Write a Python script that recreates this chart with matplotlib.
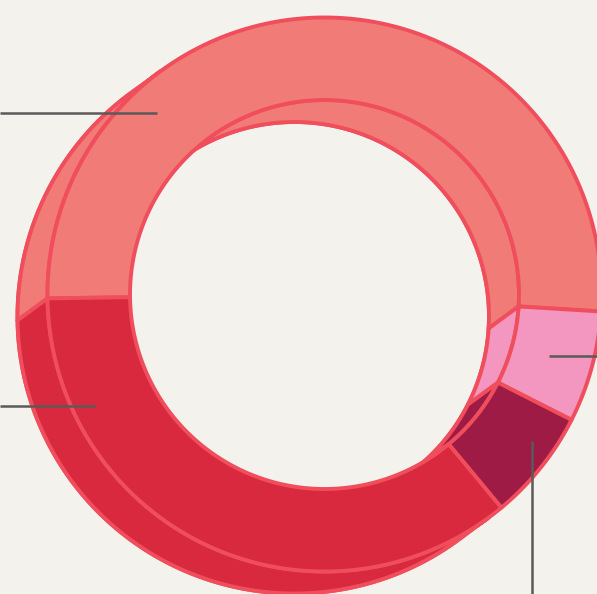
import numpy as np
import matplotlib
matplotlib.use("Agg")
import matplotlib.pyplot as plt
from matplotlib.patches import Polygon

# ---- data ----
categories = ["A", "B", "C", "D"]
values = [51.2, 6.5, 6.5, 35.8]
colors = ["#f17b76", "#f396c0", "#9d1b45", "#d8293f"]

# ---- layout ----
W, H = 597, 594
BG = "#f3f2ed"
EDGE = "#f04e5c"
LW = 2.8
cx, cy = 324.5, 294.5          # front face centre (pixels)
r_out, r_in = 277.0, 194.5
dx, dy = -30.0, 22.0           # offset of back face (pixels, y down)
start_angle = 180.8            # degrees, math convention, going clockwise

fig = plt.figure(figsize=(W / 100, H / 100), dpi=100, facecolor=BG)
ax = fig.add_axes([0, 0, 1, 1])
ax.set_facecolor(BG)
ax.set_xlim(0, W)
ax.set_ylim(H, 0)
ax.set_aspect("equal")
ax.axis("off")


def arc(ccx, ccy, r, a0, a1, n=200):
    t = np.radians(np.linspace(a0, a1, n))
    return np.column_stack([ccx + r * np.cos(t), ccy - r * np.sin(t)])


# segment angle ranges (clockwise from start)
fr = np.array(values) / np.sum(values)
bounds = start_angle - 360 * np.concatenate([[0], np.cumsum(fr)])
segs = [(bounds[i + 1], bounds[i]) for i in range(len(values))]  # (lo, hi)

bcx, bcy = cx + dx, cy + dy
off_ang = np.degrees(np.arctan2(-dy, dx))  # direction of back offset (math)
vis_outer = (off_ang - 90, off_ang + 90)
vis_inner = (off_ang + 180 - 90, off_ang + 180 + 90)


def intersect(lo, hi, vlo, vhi):
    out = []
    for k in range(-2, 3):
        a = max(lo, vlo + 360 * k)
        b = min(hi, vhi + 360 * k)
        if b > a + 1e-6:
            out.append((a, b))
    return out


def ring(ccx, ccy, lo, hi):
    return np.vstack([arc(ccx, ccy, r_out, lo, hi), arc(ccx, ccy, r_in, hi, lo)])


def patch(pts, color, z):
    ax.add_patch(Polygon(pts, closed=True, facecolor=color, edgecolor=EDGE,
                         linewidth=LW, joinstyle="round", zorder=z))


# back face
for (lo, hi), c in zip(segs, colors):
    patch(ring(bcx, bcy, lo, hi), c, 1)

# outer walls
for (lo, hi), c in zip(segs, colors):
    for a, b in intersect(lo, hi, *vis_outer):
        pts = np.vstack([arc(cx, cy, r_out, a, b), arc(bcx, bcy, r_out, b, a)])
        patch(pts, c, 2)

# inner walls
for (lo, hi), c in zip(segs, colors):
    for a, b in intersect(lo, hi, *vis_inner):
        pts = np.vstack([arc(cx, cy, r_in, a, b), arc(bcx, bcy, r_in, b, a)])
        patch(pts, c, 2)

# front face
for (lo, hi), c in zip(segs, colors):
    patch(ring(cx, cy, lo, hi), c, 3)

# leader lines
LC = "#5a5a5a"
ax.plot([0, 157], [113, 113], color=LC, lw=1.8, zorder=5, solid_capstyle="butt")
ax.plot([0, 95], [406, 406], color=LC, lw=1.8, zorder=5, solid_capstyle="butt")
ax.plot([549, 597], [356, 356], color=LC, lw=1.8, zorder=5, solid_capstyle="butt")
ax.plot([532, 532], [441, 594], color=LC, lw=1.8, zorder=5, solid_capstyle="butt")

fig.savefig("out.png", dpi=100, facecolor=BG)
